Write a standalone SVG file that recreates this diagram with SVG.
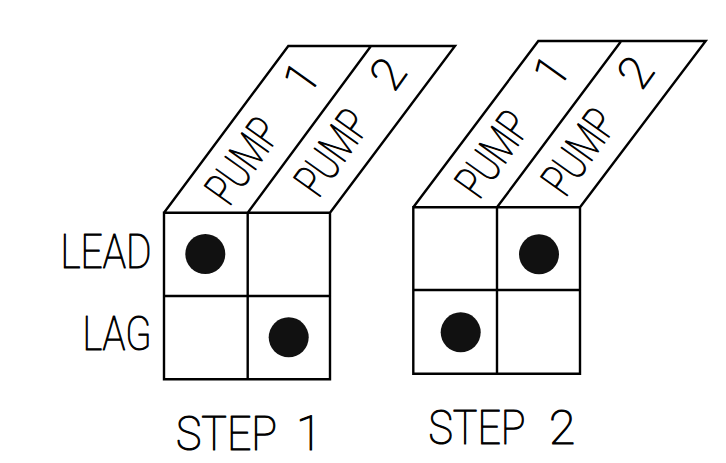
<svg xmlns="http://www.w3.org/2000/svg" width="726" height="463" viewBox="0 0 726 463">
<style>
.ln{fill:none;stroke:#000;stroke-width:2.4;stroke-linejoin:miter}
.dot{fill:#111}
.t{font-family:Roboto,"Liberation Sans",sans-serif;font-weight:100;fill:#000;stroke:#000;stroke-width:1.1;stroke-linejoin:round}
.h{font-size:48px}
.r{font-size:46px}
</style>
<rect width="726" height="463" fill="#fff"/>
<g id="connectors"></g>
<g id="step1">
<path class="ln" d="M164,212.7 H330 V379.3 H164 Z M247.7,212.7 V379.3 M164,296 H330 M164,212.7 L288.3,46 H455 L330,212.7 M247.7,212.7 L371,46"/>
<circle class="dot" cx="205.3" cy="254" r="20"/>
<circle class="dot" cx="288.7" cy="337.3" r="20"/>
<text class="t r" transform="translate(230.7,205) rotate(-54.5)"><tspan x="-3" textLength="92" lengthAdjust="spacingAndGlyphs">PUMP</tspan><tspan x="132">1</tspan></text>
<text class="t r" transform="translate(320,196.7) rotate(-54.5)"><tspan x="-3" textLength="92" lengthAdjust="spacingAndGlyphs">PUMP</tspan><tspan x="127">2</tspan></text>
<text class="t h" x="176" y="450"><tspan textLength="101" lengthAdjust="spacingAndGlyphs">STEP</tspan><tspan x="296">1</tspan></text>
</g>
<g id="step2">
<path class="ln" d="M413.3,207.3 H580 V373.7 H413.3 Z M497,207.3 V373.7 M413.3,290 H580 M413.3,207.3 L538.3,41 H705.7 L580,207.3 M497,207.3 L620.7,41.7"/>
<circle class="dot" cx="539" cy="254.3" r="20"/>
<circle class="dot" cx="460.7" cy="332.3" r="20"/>
<text class="t r" transform="translate(480.7,198.3) rotate(-54.5)"><tspan x="-3" textLength="92" lengthAdjust="spacingAndGlyphs">PUMP</tspan><tspan x="132">1</tspan></text>
<text class="t r" transform="translate(567,196) rotate(-54.5)"><tspan x="-3" textLength="92" lengthAdjust="spacingAndGlyphs">PUMP</tspan><tspan x="128">2</tspan></text>
<text class="t h" x="428.5" y="444"><tspan textLength="97" lengthAdjust="spacingAndGlyphs">STEP</tspan><tspan x="549">2</tspan></text>
</g>
<g id="labels">
<text class="t h" x="60.5" y="267.7" textLength="91" lengthAdjust="spacingAndGlyphs">LEAD</text>
<text class="t h" x="82.5" y="350" textLength="69" lengthAdjust="spacingAndGlyphs">LAG</text>
</g>
</svg>
